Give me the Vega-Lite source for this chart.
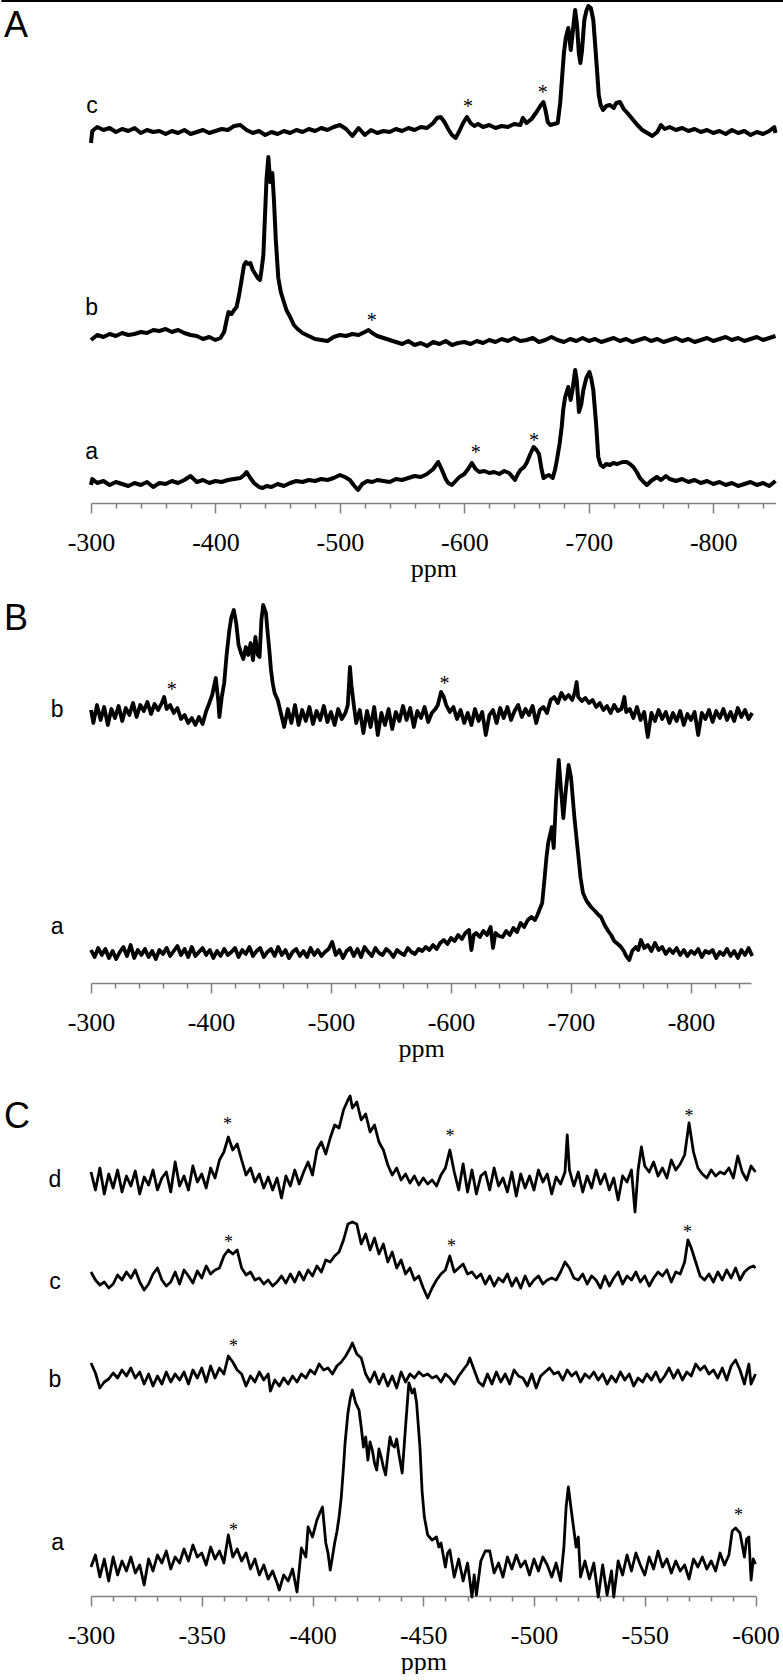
{
"$schema": "https://vega.github.io/schema/vega-lite/v6.json",
"background": "white",
"padding": 0,
"bounds": "flush",
"spacing": 97,
"config": {"view": {"stroke": null},
 "style": {"guide-label": {"font": "Liberation Serif", "fontSize": 26, "fill": "#000000"}, "guide-title": {"font": "Liberation Serif", "fontSize": 26, "fontWeight": "normal", "fill": "#000000"}},
 "axis": {"grid": false, "domainColor": "#808080", "domainWidth": 1.5, "tickColor": "#808080", "tickWidth": 1.5,
  "labelFont": "Liberation Serif", "labelFontSize": 26, "labelColor": "#000000", "labelPadding": 16, "labelOverlap": false, "labelFlush": false,
  "titleFont": "Liberation Serif", "titleFontSize": 26, "titleFontWeight": "normal", "titleColor": "#000000", "titlePadding": 0}},
"vconcat": [
{
"width": 684.5, "height": 503,
"encoding": {"x": {"field": "x", "type": "quantitative", "title": "ppm", "scale": {"domain": [-850, -300], "reverse": true, "nice": false, "zero": false},
 "axis": {"values": [-300,-320,-340,-360,-380,-400,-420,-440,-460,-480,-500,-520,-540,-560,-580,-600,-620,-640,-660,-680,-700,-720,-740,-760,-780,-800,-820,-840],
  "labelExpr": "datum.value % 100 === 0 ? '' + datum.value : ''",
  "tickSize": {"condition": {"test": "datum.value % 100 === 0", "value": 10}, "value": 5},
  "labelFont": "Liberation Serif", "labelFontSize": 26, "labelFontWeight": "normal", "labelColor": "#000000", "labelPadding": 16,
  "titleFont": "Liberation Serif", "titleFontSize": 26, "titleFontWeight": "normal", "titleColor": "#000000", "titlePadding": 0,
  "domainColor": "#808080", "domainWidth": 1.5, "tickColor": "#808080", "tickWidth": 1.5, "grid": false}}},
"resolve": {"scale": {"y": "independent"}},
"layer": [
{"data": {"values": "x,y\n-300,-10\n-301,2\n-305,6\n-310,3\n-315,5\n-320,1\n-325,4\n-330,2\n-335,5\n-340,0\n-345,3\n-350,1\n-355,2\n-360,-1\n-365,2\n-370,0\n-375,3\n-380,-1\n-385,1\n-390,3\n-395,0\n-400,2\n-405,4\n-410,3\n-415,7\n-420,8\n-425,3\n-430,0\n-435,2\n-440,-2\n-445,1\n-450,-1\n-455,2\n-460,0\n-465,3\n-470,1\n-475,4\n-480,2\n-485,5\n-490,3\n-495,6\n-500,8\n-505,4\n-510,-3\n-515,5\n-520,-2\n-525,3\n-530,0\n-535,2\n-540,1\n-545,4\n-550,2\n-555,5\n-560,3\n-565,6\n-570,5\n-575,10\n-578,15\n-581,16\n-584,11\n-587,4\n-590,-2\n-593,-5\n-596,2\n-599,10\n-602,16\n-605,10\n-608,7\n-611,9\n-615,6\n-620,8\n-625,5\n-630,7\n-635,6\n-640,9\n-645,8\n-647,15\n-650,10\n-654,14\n-658,21\n-661,27\n-663.5,31\n-665,24\n-667,11\n-669,8\n-672,9\n-675,10\n-677,30\n-678.5,55\n-680,80\n-681.5,95\n-683.5,105\n-685.5,83\n-687,100\n-689,123\n-690.5,108\n-692,80\n-693.2,70\n-694.5,82\n-696.4,113\n-698,122\n-699.6,127\n-701.6,125\n-703.6,113\n-705,90\n-706.4,66\n-708,38\n-709.5,28\n-711.5,23\n-714,27\n-717,28\n-720,25\n-722,30\n-725,31\n-728,24\n-731,20\n-735,14\n-739,8\n-743,3\n-747,0\n-751,-3\n-755,1\n-758,8\n-761,4\n-765,6\n-770,3\n-775,5\n-780,2\n-785,4\n-790,1\n-795,3\n-800,0\n-805,2\n-810,-1\n-815,3\n-820,0\n-825,2\n-830,-2\n-835,1\n-840,-1\n-845,2\n-849,6\n-850,0", "format": {"type": "csv", "parse": {"x": "number", "y": "number"}}},
 "mark": {"type": "line", "color": "black", "strokeWidth": 4, "strokeJoin": "round"},
 "encoding": {"y": {"field": "y", "type": "quantitative", "scale": {"domain": [-370, 133], "nice": false, "zero": false}, "axis": null}}},
{"data": {"values": "x,y\n-300,0\n-305,5\n-310,3\n-315,6\n-320,4\n-325,7\n-330,5\n-335,6\n-340,8\n-345,7\n-350,10\n-355,9\n-360,11\n-365,8\n-370,10\n-375,7\n-380,5\n-385,4\n-390,1\n-395,3\n-400,0\n-404,2\n-407,8\n-409,20\n-410.5,28\n-413,26\n-415,30\n-417,33\n-419,45\n-421,60\n-423,75\n-424.5,78\n-426,76\n-428,77\n-430,70\n-432,66\n-434,62\n-435.8,60\n-437,70\n-438.5,85\n-440,130\n-441,160\n-442.5,183\n-444,158\n-445.7,167\n-447,140\n-448.5,100\n-450.5,62\n-452.5,48\n-454.5,40\n-457,30\n-460,23\n-463,15\n-466,11\n-470,7\n-475,4\n-480,1\n-485,0\n-490,-1\n-495,3\n-500,5\n-505,4\n-510,6\n-515,5\n-520,8\n-523,10\n-526,7\n-530,4\n-535,2\n-540,0\n-545,-2\n-550,-4\n-555,-1\n-560,-5\n-565,-3\n-570,-6\n-575,-2\n-580,-4\n-585,-1\n-590,-5\n-595,-3\n-600,-2\n-605,-4\n-610,-1\n-615,-3\n-620,0\n-625,-2\n-630,1\n-635,-1\n-640,2\n-645,-1\n-650,0\n-655,2\n-660,-2\n-665,0\n-670,3\n-675,0\n-680,-2\n-685,1\n-690,-1\n-695,2\n-700,-1\n-705,1\n-710,-2\n-715,0\n-720,2\n-725,-1\n-730,1\n-735,-2\n-740,0\n-745,2\n-750,-1\n-755,1\n-760,-2\n-765,0\n-770,2\n-775,-1\n-780,1\n-785,-2\n-790,0\n-795,2\n-800,-1\n-805,1\n-810,3\n-815,0\n-820,2\n-825,-1\n-830,1\n-835,3\n-840,0\n-845,2\n-850,4", "format": {"type": "csv", "parse": {"x": "number", "y": "number"}}},
 "mark": {"type": "line", "color": "black", "strokeWidth": 4, "strokeJoin": "round"},
 "encoding": {"y": {"field": "y", "type": "quantitative", "scale": {"domain": [-163, 340], "nice": false, "zero": false}, "axis": null}}},
{"data": {"values": "x,y\n-300,-1\n-301,5\n-305,1\n-310,3\n-315,-1\n-320,2\n-325,0\n-330,-2\n-335,1\n-340,-1\n-345,2\n-350,-3\n-355,1\n-360,0\n-365,3\n-370,1\n-375,4\n-380,8\n-385,2\n-390,4\n-395,1\n-400,3\n-405,2\n-410,4\n-415,5\n-420,6\n-423,9\n-425,12\n-428,6\n-431,1\n-435,-3\n-438,-4\n-441,-2\n-445,-3\n-450,0\n-455,-2\n-460,1\n-465,3\n-470,2\n-475,4\n-480,3\n-485,5\n-490,4\n-495,6\n-500,9\n-504,7\n-508,4\n-511,-1\n-514.5,-6\n-518,0\n-522,3\n-526,2\n-530,4\n-535,3\n-540,2\n-545,5\n-550,4\n-555,6\n-560,8\n-565,7\n-570,10\n-575,15\n-579,22\n-582,14\n-585,5\n-587,1\n-590,-1\n-593,3\n-596,7\n-600,10\n-603,15\n-606,21\n-609,15\n-612,12\n-616,13\n-620,11\n-624,12\n-628,10\n-632,13\n-636,11\n-640.7,4\n-643,10\n-645,14\n-648,17\n-650,21\n-653,30\n-655.6,37\n-658,34\n-660,30\n-662,15\n-663.6,6\n-666,8\n-668,9\n-671,6\n-673,15\n-674.5,25\n-676.5,40\n-678.2,57\n-679.5,75\n-681,87\n-683.5,97\n-685.4,84\n-687,95\n-689,114\n-690.3,104\n-692.1,72\n-694,80\n-695.6,94\n-698,106\n-700.5,112\n-702,105\n-703.6,94\n-705.8,61\n-707.6,27\n-709.5,19\n-711.6,17\n-714,20\n-717,19\n-719.6,21\n-723,20\n-727,22\n-730.4,22\n-733,20\n-735.8,17\n-738.5,12\n-741.1,6\n-744,2\n-746.6,-1\n-750,3\n-754.6,7\n-758,4\n-762,8\n-765,5\n-770,3\n-775,5\n-780,2\n-785,4\n-790,1\n-795,3\n-800,0\n-805,2\n-810,-1\n-815,1\n-820,-2\n-825,0\n-830,2\n-835,-1\n-840,1\n-845,-2\n-850,3", "format": {"type": "csv", "parse": {"x": "number", "y": "number"}}},
 "mark": {"type": "line", "color": "black", "strokeWidth": 4, "strokeJoin": "round"},
 "encoding": {"y": {"field": "y", "type": "quantitative", "scale": {"domain": [-19, 484], "nice": false, "zero": false}, "axis": null}}},
{"data": {"values": [{"x": -228, "x2": -857, "y": 132}]},
 "mark": {"type": "rule", "color": "black", "strokeWidth": 2},
 "encoding": {"x2": {"field": "x2"}, "y": {"field": "y", "type": "quantitative", "scale": {"domain": [-370, 133], "nice": false, "zero": false}, "axis": null}}},
{"data": {"values": [{"x": -239.7, "y": 107, "t": "A"}]},
 "mark": {"type": "text", "font": "Liberation Sans", "fontSize": 36, "align": "center", "baseline": "middle", "color": "black"},
 "encoding": {"y": {"field": "y", "type": "quantitative", "scale": {"domain": [-370, 133], "nice": false, "zero": false}, "axis": null}, "text": {"field": "t"}}},
{"data": {"values": [{"x": -300.8, "y": 27, "t": "c"}, {"x": -300.6, "y": -175, "t": "b"}, {"x": -300.6, "y": -318.7, "t": "a"}]},
 "mark": {"type": "text", "font": "Liberation Sans", "fontSize": 23, "align": "center", "baseline": "middle", "color": "black"},
 "encoding": {"y": {"field": "y", "type": "quantitative", "scale": {"domain": [-370, 133], "nice": false, "zero": false}, "axis": null}, "text": {"field": "t"}}},
{"data": {"values": [{"x": -602.9, "y": 30, "t": "*"}, {"x": -663, "y": 44, "t": "*"}, {"x": -525.6, "y": -183.7, "t": "*"}, {"x": -609.1, "y": -316.3, "t": "*"}, {"x": -656, "y": -304.3, "t": "*"}]},
 "mark": {"type": "text", "font": "Liberation Serif", "fontSize": 20, "align": "center", "baseline": "middle", "dy": 4, "color": "black"},
 "encoding": {"y": {"field": "y", "type": "quantitative", "scale": {"domain": [-370, 133], "nice": false, "zero": false}, "axis": null}, "text": {"field": "t"}}}
]
},
{
"width": 660, "height": 383,
"encoding": {"x": {"field": "x", "type": "quantitative", "title": "ppm", "scale": {"domain": [-850, -300], "reverse": true, "nice": false, "zero": false},
 "axis": {"values": [-300,-320,-340,-360,-380,-400,-420,-440,-460,-480,-500,-520,-540,-560,-580,-600,-620,-640,-660,-680,-700,-720,-740,-760,-780,-800,-820,-840],
  "labelExpr": "datum.value % 100 === 0 ? '' + datum.value : ''",
  "tickSize": {"condition": {"test": "datum.value % 100 === 0", "value": 10}, "value": 5},
  "labelFont": "Liberation Serif", "labelFontSize": 26, "labelFontWeight": "normal", "labelColor": "#000000", "labelPadding": 16,
  "titleFont": "Liberation Serif", "titleFontSize": 26, "titleFontWeight": "normal", "titleColor": "#000000", "titlePadding": 0,
  "domainColor": "#808080", "domainWidth": 1.5, "tickColor": "#808080", "tickWidth": 1.5, "grid": false}}},
"resolve": {"scale": {"y": "independent"}},
"layer": [
{"data": {"values": "x,y\n-300,5\n-302,-8\n-305,10\n-308,-5\n-311,8\n-314,-10\n-317,6\n-320,-3\n-323,9\n-326,-6\n-329,7\n-332,0\n-335,12\n-338,-2\n-341,10\n-344,4\n-347,13\n-350,1\n-353,11\n-356,5\n-359,12\n-361,18\n-363,6\n-366,10\n-369,2\n-372,7\n-375,-4\n-378,0\n-381,-8\n-384,-3\n-387,-10\n-390,-2\n-393,-9\n-396,4\n-398,10\n-401,20\n-404,37\n-406,15\n-407,-2\n-409,18\n-411,32\n-413,60\n-415.3,85\n-417,98\n-419,105\n-421,92\n-423,70\n-425,62\n-427,56\n-429,68\n-431,60\n-433,72\n-435,55\n-437,78\n-439,60\n-440.5,58\n-442,95\n-443.5,110\n-445.8,102\n-447,85\n-448.6,65\n-450,45\n-451.4,32\n-453,22\n-455.6,15\n-458,3\n-461,-12\n-464,6\n-467,-8\n-470,10\n-473,-10\n-476,5\n-479,-6\n-482,8\n-485,-9\n-488,4\n-491,-5\n-494,9\n-497,-7\n-500,3\n-503,-10\n-506,6\n-509,-4\n-512,2\n-514,10\n-515.8,48\n-517,30\n-519,10\n-521,-8\n-524,5\n-527,-18\n-530,4\n-533,-12\n-536,8\n-539,-20\n-542,2\n-545,-10\n-548,6\n-551,-14\n-554,3\n-557,-6\n-560,9\n-563,-5\n-566,7\n-569,-12\n-572,4\n-575,-3\n-578,8\n-581,-7\n-584,2\n-587,6\n-589,10\n-591.7,23\n-594,18\n-596,10\n-599,3\n-602,8\n-605,-4\n-608,5\n-611,-8\n-614,2\n-617,-10\n-620,6\n-623,-6\n-626,3\n-629,-20\n-632,0\n-635,5\n-638,-8\n-641,7\n-644,-3\n-647,8\n-650,-5\n-653,4\n-656,10\n-659,-2\n-662,6\n-665,0\n-668,9\n-671,-8\n-674,5\n-677,8\n-680,2\n-683,15\n-686,18\n-689,12\n-692,22\n-695,16\n-698,20\n-701,15\n-703,22\n-704.7,33\n-706,18\n-709,14\n-712,17\n-715,12\n-718,15\n-721,8\n-724,12\n-727,5\n-730,9\n-733,2\n-736,10\n-739,4\n-742,6\n-744.5,18\n-746,3\n-749,6\n-752,-3\n-755,8\n-758,-5\n-761,3\n-764,-22\n-767,2\n-770,-6\n-773,5\n-776,-4\n-779,3\n-782,-8\n-785,2\n-788,-6\n-791,4\n-794,-10\n-797,1\n-800,-5\n-803,3\n-806,-20\n-809,2\n-812,-4\n-815,5\n-818,-7\n-821,4\n-824,-3\n-827,6\n-830,-5\n-833,3\n-836,-6\n-839,7\n-842,-2\n-845,5\n-848,-4\n-851,2", "format": {"type": "csv", "parse": {"x": "number", "y": "number"}}},
 "mark": {"type": "line", "color": "black", "strokeWidth": 3.8, "strokeJoin": "round"},
 "encoding": {"y": {"field": "y", "type": "quantitative", "scale": {"domain": [-268, 115], "nice": false, "zero": false}, "axis": null}}},
{"data": {"values": "x,y\n-300,3\n-303,-4\n-306,5\n-309,-2\n-312,4\n-315,-5\n-318,2\n-321,-6\n-324,1\n-327,6\n-330,-3\n-333,8\n-336,-5\n-339,3\n-342,-2\n-345,4\n-348,-4\n-351,2\n-354,-6\n-357,3\n-360,-1\n-363,5\n-366,-3\n-369,2\n-372,7\n-375,-2\n-378,4\n-381,-4\n-384,6\n-387,-3\n-390,1\n-393,5\n-396,-2\n-399,3\n-402,-5\n-405,2\n-408,-3\n-411,4\n-414,-2\n-417,1\n-420,5\n-423,-4\n-426,3\n-429,-1\n-432,6\n-435,-3\n-438,2\n-441,5\n-444,-4\n-447,1\n-450,4\n-453,-3\n-456,6\n-459,-2\n-462,3\n-465,-5\n-468,1\n-471,4\n-474,-3\n-477,2\n-480,-4\n-483,5\n-486,-2\n-489,3\n-492,-3\n-495,1\n-498,4\n-501,11\n-504,-2\n-507,3\n-510,-5\n-513,2\n-516,5\n-519,-3\n-522,4\n-525,-4\n-528,6\n-531,1\n-534,-3\n-537,5\n-540,0\n-543,-2\n-546,4\n-549,1\n-552,-4\n-555,3\n-558,0\n-561,-2\n-564,5\n-567,1\n-570,-1\n-573,4\n-576,2\n-579,6\n-582,3\n-585,8\n-588,4\n-591,10\n-594,13\n-597,9\n-600,15\n-603,12\n-606,18\n-609,14\n-612,20\n-615,23\n-617,3\n-619,18\n-621,20\n-624,16\n-627,22\n-630,18\n-633,26\n-635,5\n-637,20\n-640,17\n-643,16\n-646,22\n-649,18\n-652,25\n-655,21\n-658,30\n-661,26\n-664,33\n-667,36\n-670,33\n-672,38\n-674,44\n-676,50\n-678,75\n-679.5,95\n-681,110\n-682.5,118\n-684,126\n-685.6,105\n-687.5,153\n-689.8,193\n-691.7,163\n-693.6,135\n-695.7,163\n-698,188\n-700,176\n-702.8,136\n-705.6,103\n-708,75\n-710,60\n-713,52\n-716.7,46\n-720,42\n-723,38\n-725,36\n-728,28\n-731,22\n-733.4,18\n-736,12\n-739,9\n-741.7,6\n-744,2\n-746,-3\n-748.6,-7\n-751,2\n-754,6\n-756,3\n-758.3,13\n-761,5\n-764,8\n-767,2\n-770,10\n-773,3\n-776,6\n-779,-1\n-782,4\n-785,0\n-788,5\n-791,-2\n-794,3\n-797,-3\n-800,2\n-803,-1\n-806,4\n-809,-4\n-812,2\n-815,0\n-818,3\n-821,-5\n-824,1\n-827,-2\n-830,4\n-833,-3\n-836,2\n-839,-5\n-842,3\n-845,-2\n-848,5\n-851,-3", "format": {"type": "csv", "parse": {"x": "number", "y": "number"}}},
 "mark": {"type": "line", "color": "black", "strokeWidth": 3.8, "strokeJoin": "round"},
 "encoding": {"y": {"field": "y", "type": "quantitative", "scale": {"domain": [-30, 353], "nice": false, "zero": false}, "axis": null}}},
{"data": {"values": [{"x": -237.5, "y": 96.5, "t": "B"}]},
 "mark": {"type": "text", "font": "Liberation Sans", "fontSize": 36, "align": "center", "baseline": "middle", "color": "black"},
 "encoding": {"y": {"field": "y", "type": "quantitative", "scale": {"domain": [-268, 115], "nice": false, "zero": false}, "axis": null}, "text": {"field": "t"}}},
{"data": {"values": [{"x": -271.7, "y": 5, "t": "b"}, {"x": -271.7, "y": -211.7, "t": "a"}]},
 "mark": {"type": "text", "font": "Liberation Sans", "fontSize": 23, "align": "center", "baseline": "middle", "color": "black"},
 "encoding": {"y": {"field": "y", "type": "quantitative", "scale": {"domain": [-268, 115], "nice": false, "zero": false}, "axis": null}, "text": {"field": "t"}}},
{"data": {"values": [{"x": -367.25, "y": 29, "t": "*"}, {"x": -594.5, "y": 35, "t": "*"}]},
 "mark": {"type": "text", "font": "Liberation Serif", "fontSize": 20, "align": "center", "baseline": "middle", "dy": 4, "color": "black"},
 "encoding": {"y": {"field": "y", "type": "quantitative", "scale": {"domain": [-268, 115], "nice": false, "zero": false}, "axis": null}, "text": {"field": "t"}}}
]
},
{
"width": 664.5, "height": 516,
"encoding": {"x": {"field": "x", "type": "quantitative", "title": "ppm", "scale": {"domain": [-600, -300], "reverse": true, "nice": false, "zero": false},
 "axis": {"values": [-300,-310,-320,-330,-340,-350,-360,-370,-380,-390,-400,-410,-420,-430,-440,-450,-460,-470,-480,-490,-500,-510,-520,-530,-540,-550,-560,-570,-580,-590,-600],
  "labelExpr": "datum.value % 50 === 0 ? '' + datum.value : ''",
  "tickSize": {"condition": {"test": "datum.value % 50 === 0", "value": 10}, "value": 5},
  "labelFont": "Liberation Serif", "labelFontSize": 26, "labelFontWeight": "normal", "labelColor": "#000000", "labelPadding": 16,
  "titleFont": "Liberation Serif", "titleFontSize": 26, "titleFontWeight": "normal", "titleColor": "#000000", "titlePadding": 0,
  "domainColor": "#808080", "domainWidth": 1.5, "tickColor": "#808080", "tickWidth": 1.5, "grid": false}}},
"resolve": {"scale": {"y": "independent"}},
"layer": [
{"data": {"values": "x,y\n-300,8\n-302,-10\n-304,12\n-306,-14\n-308,6\n-310,-8\n-312,10\n-314,-12\n-316,4\n-318,-6\n-320,9\n-322,-14\n-324,3\n-326,-5\n-328,10\n-330,-10\n-332,2\n-334,8\n-336,-12\n-338,18\n-340,-6\n-342,4\n-344,-10\n-346,14\n-348,-2\n-350,6\n-352,-8\n-354,12\n-356,2\n-358,20\n-360,28\n-362,43\n-364,30\n-366,36\n-368,20\n-370,5\n-372,12\n-374,-2\n-376,6\n-378,-8\n-380,3\n-382,-10\n-384,2\n-386,-18\n-388,4\n-390,-6\n-392,10\n-394,-4\n-396,8\n-398,18\n-400,5\n-402,30\n-404,38\n-406,26\n-408,42\n-410,55\n-412,52\n-414,70\n-416,80\n-417,84\n-418,72\n-420,78\n-422,60\n-424,66\n-426,48\n-428,55\n-430,38\n-432,30\n-434,15\n-436,5\n-438,12\n-440,0\n-442,6\n-444,-3\n-446,4\n-448,-5\n-450,2\n-452,-4\n-454,0\n-456,-6\n-458,5\n-460,12\n-462,30\n-464,8\n-466,-10\n-468,16\n-470,-12\n-472,10\n-474,-14\n-476,4\n-478,8\n-480,-10\n-482,12\n-484,-6\n-486,2\n-488,-12\n-490,8\n-492,-16\n-494,6\n-496,-8\n-498,4\n-500,-10\n-502,10\n-504,-2\n-506,6\n-508,-14\n-510,3\n-512,-4\n-514,8\n-515,45\n-516,10\n-518,-6\n-520,8\n-522,-12\n-524,4\n-526,-8\n-528,10\n-530,-4\n-532,6\n-534,-10\n-536,2\n-538,-20\n-540,4\n-542,-2\n-544,10\n-545.6,-32\n-547,10\n-548.5,33\n-550,14\n-552,8\n-554,18\n-556,4\n-558,12\n-560,2\n-562,20\n-564,10\n-566,16\n-568,25\n-570,57\n-572,28\n-574,12\n-576,6\n-578,2\n-580,10\n-582,4\n-584,8\n-586,6\n-588,12\n-590,2\n-592,24\n-594,8\n-596,0\n-598,14\n-600,8", "format": {"type": "csv", "parse": {"x": "number", "y": "number"}}},
 "mark": {"type": "line", "color": "black", "strokeWidth": 2.8, "strokeJoin": "round"},
 "encoding": {"y": {"field": "y", "type": "quantitative", "scale": {"domain": [-416, 100], "nice": false, "zero": false}, "axis": null}}},
{"data": {"values": "x,y\n-300,8\n-302,0\n-304,-5\n-306,-2\n-308,-8\n-310,-4\n-312,5\n-314,0\n-316,8\n-318,2\n-320,10\n-322,-2\n-324,-10\n-326,-4\n-328,6\n-330,12\n-332,0\n-334,-6\n-336,-2\n-338,8\n-340,-4\n-342,10\n-344,4\n-346,-3\n-348,9\n-350,2\n-352,14\n-354,6\n-356,10\n-358,12\n-360,24\n-362,30\n-364,26\n-366,30\n-368,12\n-370,5\n-372,8\n-374,0\n-376,2\n-378,-4\n-380,0\n-382,-6\n-384,-2\n-386,4\n-388,-3\n-390,6\n-392,-2\n-394,8\n-396,0\n-398,10\n-400,4\n-402,14\n-404,8\n-406,20\n-408,18\n-410,24\n-412,28\n-414,40\n-416,56\n-418,58\n-420,56\n-422,36\n-424,46\n-426,30\n-428,42\n-430,26\n-432,36\n-434,18\n-436,28\n-438,12\n-440,20\n-442,6\n-444,12\n-446,0\n-448,4\n-450,-8\n-452,-18\n-454,-8\n-456,0\n-458,6\n-460,10\n-462,24\n-464,8\n-466,12\n-468,16\n-470,6\n-472,8\n-474,2\n-476,6\n-478,-4\n-480,4\n-482,-6\n-484,2\n-486,-2\n-488,6\n-490,-6\n-492,2\n-494,-8\n-496,4\n-498,-6\n-500,0\n-502,4\n-504,-4\n-506,0\n-508,2\n-510,0\n-512,8\n-514,18\n-516,12\n-518,2\n-520,0\n-522,6\n-524,-4\n-526,4\n-528,0\n-530,-8\n-532,4\n-534,-6\n-536,2\n-538,8\n-540,-4\n-542,4\n-544,0\n-546,8\n-548,-2\n-550,4\n-552,-6\n-554,2\n-556,8\n-558,4\n-560,10\n-562,-2\n-564,8\n-566,6\n-568,18\n-569.5,40\n-571,32\n-573,18\n-575,4\n-577,0\n-579,6\n-581,-2\n-583,8\n-585,0\n-587,10\n-589,2\n-591,12\n-593,0\n-595,8\n-597,12\n-599,14\n-600,12", "format": {"type": "csv", "parse": {"x": "number", "y": "number"}}},
 "mark": {"type": "line", "color": "black", "strokeWidth": 2.8, "strokeJoin": "round"},
 "encoding": {"y": {"field": "y", "type": "quantitative", "scale": {"domain": [-316, 200], "nice": false, "zero": false}, "axis": null}}},
{"data": {"values": "x,y\n-300,15\n-302,5\n-304,-10\n-306,-4\n-308,-1\n-310,5\n-312,0\n-314,8\n-316,2\n-318,10\n-320,0\n-322,6\n-324,-6\n-326,4\n-328,-8\n-330,2\n-332,-6\n-334,6\n-336,-4\n-338,4\n-340,-2\n-342,6\n-344,-6\n-346,8\n-348,0\n-350,10\n-352,-4\n-354,12\n-356,0\n-358,10\n-360,4\n-362,22\n-364,16\n-366,8\n-368,4\n-370,-8\n-372,2\n-374,-4\n-376,6\n-378,-2\n-380,4\n-381,-13\n-383,-2\n-385,-8\n-387,0\n-389,-6\n-391,2\n-393,-4\n-395,4\n-397,0\n-399,8\n-401,4\n-403,14\n-405,8\n-407,10\n-409,4\n-411,12\n-413,16\n-415,22\n-417,30\n-418,35\n-420,24\n-422,20\n-424,4\n-426,-4\n-428,6\n-430,-6\n-432,4\n-434,-8\n-436,2\n-438,-10\n-440,6\n-442,-4\n-444,4\n-446,0\n-448,6\n-450,2\n-452,4\n-454,0\n-456,2\n-458,-4\n-460,4\n-462,0\n-464,-6\n-466,2\n-468,8\n-470,14\n-471,20\n-473,8\n-475,-4\n-477,-8\n-479,4\n-481,-6\n-483,6\n-485,-4\n-487,4\n-489,-6\n-491,8\n-493,2\n-495,0\n-497,-8\n-499,4\n-501,-10\n-503,2\n-505,6\n-507,10\n-509,4\n-511,6\n-513,-2\n-515,8\n-517,2\n-519,6\n-521,-4\n-523,4\n-525,0\n-527,6\n-529,-2\n-531,4\n-533,-6\n-535,2\n-537,-4\n-539,6\n-541,-2\n-543,4\n-545,-8\n-547,0\n-549,-4\n-551,4\n-553,-2\n-555,6\n-557,-4\n-559,2\n-561,10\n-563,0\n-565,8\n-567,-2\n-569,6\n-571,2\n-573,14\n-575,8\n-577,12\n-579,4\n-581,8\n-583,0\n-585,10\n-587,-2\n-589,12\n-591,18\n-593,8\n-595,-6\n-597,14\n-598,-6\n-600,4", "format": {"type": "csv", "parse": {"x": "number", "y": "number"}}},
 "mark": {"type": "line", "color": "black", "strokeWidth": 2.8, "strokeJoin": "round"},
 "encoding": {"y": {"field": "y", "type": "quantitative", "scale": {"domain": [-218, 298], "nice": false, "zero": false}, "axis": null}}},
{"data": {"values": "x,y\n-300,0\n-302,12\n-304,-10\n-306,8\n-308,-14\n-310,10\n-312,-8\n-314,6\n-316,-4\n-318,10\n-320,-6\n-322,2\n-324,-18\n-326,8\n-328,-4\n-330,12\n-332,4\n-334,16\n-336,-2\n-338,10\n-340,4\n-342,18\n-344,6\n-346,22\n-348,10\n-350,14\n-352,2\n-354,20\n-356,8\n-358,16\n-360,4\n-362,32\n-364,10\n-366,18\n-368,6\n-370,14\n-372,-2\n-374,8\n-376,-8\n-378,2\n-380,-12\n-382,-4\n-384,-16\n-385,-23\n-387,-8\n-389,-14\n-391,-2\n-393,-25\n-395,19\n-397,10\n-398,40\n-400,30\n-402,47\n-403.5,55\n-404.5,60\n-406,24\n-407,14\n-408,-3\n-409,10\n-410,24\n-411,35\n-412,50\n-413,70\n-414,100\n-414.7,124\n-416,154\n-417,168\n-418,177\n-419.5,164\n-421,157\n-422,140\n-423,120\n-424,130\n-425,107\n-426,125\n-427,117\n-428,104\n-429,97\n-430,118\n-431,110\n-432,100\n-433,92\n-434,112\n-435,130\n-436,122\n-437,120\n-438,128\n-439,113\n-440.5,94\n-442,140\n-443.5,184\n-445,174\n-446,178\n-447,164\n-448.5,120\n-449.5,75\n-450.5,50\n-452,32\n-454,27\n-456,30\n-457,20\n-458,24\n-460,0\n-461,14\n-462,17\n-464,-10\n-466,8\n-468,-14\n-470,4\n-472,-30\n-473,-8\n-474,-28\n-476,6\n-478,16\n-480,16\n-482,-6\n-484,4\n-486,-10\n-488,10\n-490,-2\n-492,12\n-494,0\n-496,6\n-498,-8\n-500,8\n-502,-4\n-504,10\n-506,2\n-508,-10\n-510,4\n-512,-14\n-513.5,20\n-514.5,60\n-515.5,80\n-517,54\n-519,20\n-520,30\n-521,-10\n-523,6\n-525,-12\n-527,4\n-529,-30\n-531,2\n-533,-28\n-535,-4\n-536,-30\n-538,6\n-540,-8\n-542,12\n-544,-4\n-546,14\n-548,2\n-550,-8\n-552,10\n-554,-2\n-556,16\n-558,0\n-560,8\n-562,-6\n-564,6\n-566,-4\n-568,2\n-570,-12\n-572,8\n-574,0\n-576,10\n-578,-2\n-580,6\n-582,-4\n-584,14\n-586,2\n-588,12\n-589.5,36\n-591,39\n-593,34\n-595,10\n-596,28\n-597,30\n-598,-13\n-599,8\n-600,3", "format": {"type": "csv", "parse": {"x": "number", "y": "number"}}},
 "mark": {"type": "line", "color": "black", "strokeWidth": 2.8, "strokeJoin": "round"},
 "encoding": {"y": {"field": "y", "type": "quantitative", "scale": {"domain": [-29, 487], "nice": false, "zero": false}, "axis": null}}},
{"data": {"values": [{"x": -266.6, "y": 63.5, "t": "C"}]},
 "mark": {"type": "text", "font": "Liberation Sans", "fontSize": 36, "align": "center", "baseline": "middle", "color": "black"},
 "encoding": {"y": {"field": "y", "type": "quantitative", "scale": {"domain": [-416, 100], "nice": false, "zero": false}, "axis": null}, "text": {"field": "t"}}},
{"data": {"values": [{"x": -283.75, "y": 0, "t": "d"}, {"x": -283.75, "y": -101.7, "t": "c"}, {"x": -283.75, "y": -200, "t": "b"}, {"x": -284.9, "y": -363, "t": "a"}]},
 "mark": {"type": "text", "font": "Liberation Sans", "fontSize": 23, "align": "center", "baseline": "middle", "color": "black"},
 "encoding": {"y": {"field": "y", "type": "quantitative", "scale": {"domain": [-416, 100], "nice": false, "zero": false}, "axis": null}, "text": {"field": "t"}}},
{"data": {"values": [{"x": -361.6, "y": 59.3, "t": "*"}, {"x": -462.1, "y": 47, "t": "*"}, {"x": -570, "y": 67, "t": "*"}, {"x": -362.1, "y": -59.3, "t": "*"}, {"x": -462.8, "y": -63.3, "t": "*"}, {"x": -569.3, "y": -49, "t": "*"}, {"x": -364.3, "y": -163, "t": "*"}, {"x": -364.3, "y": -346.7, "t": "*"}, {"x": -592.3, "y": -331.7, "t": "*"}]},
 "mark": {"type": "text", "font": "Liberation Serif", "fontSize": 18, "align": "center", "baseline": "middle", "dy": 4, "color": "black"},
 "encoding": {"y": {"field": "y", "type": "quantitative", "scale": {"domain": [-416, 100], "nice": false, "zero": false}, "axis": null}, "text": {"field": "t"}}}
]
}
]
}
